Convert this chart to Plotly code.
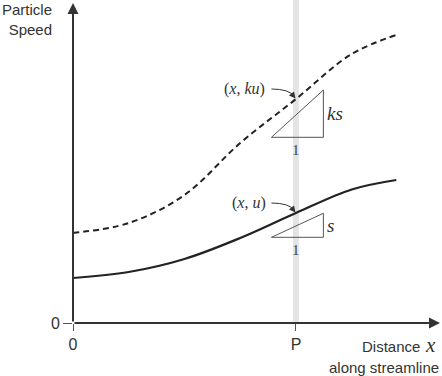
import plotly.graph_objects as go

# ---- data ----
P = 1.0                                   # position of point P along the streamline
x_vals = [0, 0.25, 0.5, 0.75, 1.0, 1.25, 1.45]
u_vals = [0.45, 0.51, 0.64, 0.85, 1.10, 1.335, 1.43]      # solid curve: u
ku_vals = [0.90, 1.00, 1.28, 1.80, 2.24, 2.69, 2.88]      # dashed curve: k*u
tri_slopes = [1.03, 2.03]       # slope triangles: s and ks
tri_bases = [0.857, 1.857]      # base level of each slope triangle
tri_side_labels = ["<i>s</i>", "<i>ks</i>"]
curve_labels = ["(<i>x</i>, <i>u</i>)", "(<i>x</i>, <i>ku</i>)"]
x_tick_vals = [0, P]
x_tick_text = ["0", "P"]
y_tick_vals = [0]
y_tick_text = ["0"]
x_max, y_max = 1.646, 3.23

SANS = "Liberation Sans, Arial, sans-serif"
SERIF = "Liberation Serif, Times New Roman, serif"
TXT = "#333333"
LINE = "#222222"

fig = go.Figure()

# grey band at P
fig.add_shape(type="rect", xref="x", yref="paper", x0=P - 0.013, x1=P + 0.013,
              y0=0, y1=1, fillcolor="#e4e4e4", line=dict(width=0), layer="below")

# curves
fig.add_trace(go.Scatter(x=x_vals, y=ku_vals, mode="lines",
                         line=dict(color=LINE, width=2, dash="6px,4px", shape="spline", smoothing=1.0),
                         hoverinfo="skip", showlegend=False))
fig.add_trace(go.Scatter(x=x_vals, y=u_vals, mode="lines",
                         line=dict(color=LINE, width=2.2, shape="spline", smoothing=1.0),
                         hoverinfo="skip", showlegend=False))

# slope triangles
run = 0.233
left = P - 0.11
right = left + run
for s, b, lab in zip(tri_slopes, tri_bases, tri_side_labels):
    top = b + s * run
    fig.add_trace(go.Scatter(x=[left, right, right, left], y=[b, b, top, b], mode="lines",
                             line=dict(color="#555555", width=1), hoverinfo="skip", showlegend=False))
    fig.add_annotation(x=P, y=b - 0.13, text="1", showarrow=False,
                       font=dict(family=SERIF, size=15, color="#444444"))
    fig.add_annotation(x=right + 0.008, y=(b + top) / 2, text=lab, showarrow=False, xanchor="left",
                       font=dict(family=SERIF, size=19, color=TXT))

# point labels with curved arrows
uP = [u_vals[x_vals.index(P)], ku_vals[x_vals.index(P)]]
label_pos = [(0.789, uP[0] + 0.10), (0.771, uP[1] + 0.10)]
for (lx, ly), yp, txt in zip(label_pos, uP, curve_labels):
    fig.add_annotation(x=lx, y=ly, text=txt, showarrow=False,
                       font=dict(family=SERIF, size=16, color=TXT))
    x0, y0 = P - 0.11, ly
    cx, cy = P - 0.03, ly
    x1, y1 = P - 0.006, yp + 0.025
    fig.add_shape(type="path", xref="x", yref="y",
                  path=f"M {x0},{y0} Q {cx},{cy} {x1},{y1}",
                  line=dict(color="#333333", width=1))
    fig.add_annotation(x=P - 0.002, y=yp + 0.005, ax=-4, ay=-5, text="", showarrow=True,
                       arrowhead=2, arrowsize=1.3, arrowwidth=1, arrowcolor="#333333")

# axes with arrowheads
fig.add_annotation(x=x_max, y=0, ax=0, ay=0, axref="x", ayref="y", text="", showarrow=True,
                   arrowhead=2, arrowsize=1.1, arrowwidth=2, arrowcolor="#333333", standoff=0)
fig.add_annotation(x=0, y=y_max - 0.03, ax=0, ay=0, axref="x", ayref="y", text="", showarrow=True,
                   arrowhead=2, arrowsize=1.1, arrowwidth=2, arrowcolor="#333333", standoff=0)

# axis titles
fig.add_annotation(xref="paper", yref="paper", x=-0.052, y=0.941, text="Particle<br>Speed",
                   showarrow=False, xanchor="right", yanchor="middle",
                   align="right", font=dict(family=SANS, size=15, color=TXT))
fig.add_annotation(xref="paper", yref="paper", x=0.951, y=-0.074, text="Distance",
                   showarrow=False, xanchor="right", yanchor="middle",
                   font=dict(family=SANS, size=15, color=TXT))
fig.add_annotation(xref="paper", yref="paper", x=0.954, y=-0.069, text="<i>x</i>",
                   showarrow=False, xanchor="left", yanchor="middle",
                   font=dict(family=SERIF, size=21, color=TXT))
fig.add_annotation(xref="paper", yref="paper", x=1.003, y=-0.138, text="along streamline",
                   showarrow=False, xanchor="right", yanchor="middle",
                   font=dict(family=SANS, size=15, color=TXT))

fig.update_layout(
    width=442, height=376,
    margin=dict(l=73, r=2, t=0, b=53),
    plot_bgcolor="white", paper_bgcolor="white",
    xaxis=dict(range=[0, x_max], showgrid=False, zeroline=False, showline=False,
               tickvals=x_tick_vals, ticktext=x_tick_text, ticks="outside", ticklen=7,
               tickcolor="#555555", tickwidth=1, tickfont=dict(family=SANS, size=16, color=TXT)),
    yaxis=dict(range=[0, y_max], showgrid=False, zeroline=False, showline=False,
               tickvals=y_tick_vals, ticktext=y_tick_text, ticks="outside", ticklen=9,
               tickcolor="#555555", tickwidth=1, tickfont=dict(family=SANS, size=16, color=TXT)),
)

fig.write_html("out.html", config={"displayModeBar": False},
               post_script="document.body.style.margin='0';")
